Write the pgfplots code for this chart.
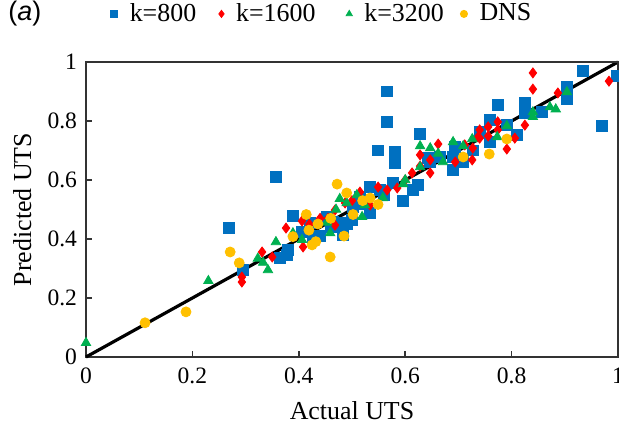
\documentclass[border=0pt]{standalone}
\usepackage{fontspec}
\setmainfont{Liberation Serif}
\newfontfamily\arialfont{Liberation Sans}
\usepackage{pgfplots}
\pgfplotsset{compat=1.18}
\definecolor{c800}{RGB}{0,112,192}
\definecolor{c1600}{RGB}{255,0,0}
\definecolor{c3200}{RGB}{0,176,80}
\definecolor{cdns}{RGB}{255,192,0}
\newcommand{\legfont}{\fontsize{13}{15}\selectfont}
\newcommand{\legentry}[2]{\makebox[#1][l]{\hspace{4bp}\legfont #2}}
\begin{document}
\begin{tikzpicture}
\useasboundingbox (-43bp,-36bp) rectangle (266.5bp,178.5bp);
\begin{axis}[
    at={(0,0)}, anchor=south west,
    scale only axis,
    width=266bp, height=147.5bp,
    xmin=0, xmax=1, ymin=0, ymax=1,
    xtick={0,0.2,...,1}, ytick={0,0.2,...,1},
    tick align=inside,
    xtick pos=bottom, ytick pos=left,
    major tick length=3bp,
    axis line style={black!80, line width=0.9pt},
    every tick/.style={black!80, line width=0.8pt},
    /pgf/number format/assume math mode=true,
    tick label style={font=\fontsize{11.8}{14}\selectfont},
    xticklabel style={yshift=-2bp},
    yticklabel style={xshift=-1bp},
    xlabel={Actual UTS},
    ylabel={Predicted UTS},
    every axis x label/.style={at={(axis description cs:0.5,-0.182)}, anchor=center,
        font=\fontsize{13}{15}\selectfont},
    every axis y label/.style={at={(axis description cs:-0.12,0.5)}, anchor=center, rotate=90,
        font=\fontsize{13}{15}\selectfont},
    clip=false,
    legend columns=4,
    legend style={draw=none, fill=none, at={(axis description cs:0.0455,1.163)}, anchor=west,
        font=\legfont, inner sep=0pt, column sep=0pt},
    legend cell align=left,
    legend image code/.code={\draw[#1, mark size=1.8bp] plot coordinates {(0bp,0bp)};},
]
\addplot[black, line width=1.6pt, forget plot] coordinates {(0,0) (1,1)};

\addplot[only marks, mark=square*, mark size=2.7bp, c800, mark options={fill=c800, draw=c800}] coordinates {
(0.269,0.437) (0.295,0.295) (0.357,0.61) (0.365,0.337) (0.378,0.346) (0.38,0.363)
(0.389,0.478) (0.406,0.424) (0.421,0.454) (0.427,0.403) (0.453,0.476) (0.464,0.458)
(0.483,0.454) (0.483,0.414) (0.49,0.45) (0.50,0.464) (0.502,0.508) (0.515,0.542)
(0.534,0.576) (0.534,0.488) (0.549,0.70) (0.553,0.566) (0.566,0.90) (0.566,0.797)
(0.577,0.59) (0.58,0.695) (0.58,0.658) (0.596,0.528) (0.615,0.566) (0.624,0.583)
(0.628,0.756) (0.643,0.674) (0.647,0.661) (0.665,0.678) (0.69,0.634) (0.69,0.678)
(0.694,0.712) (0.709,0.661) (0.727,0.70) (0.74,0.763) (0.759,0.803) (0.759,0.729)
(0.774,0.854) (0.791,0.786) (0.81,0.752) (0.825,0.861) (0.825,0.827) (0.857,0.83)
(0.904,0.915) (0.904,0.875) (0.934,0.97) (0.97,0.783) (0.998,0.953) (0.52,0.52)
(0.46,0.44) (0.44,0.41) (0.56,0.55)
};
\addlegendentry{\legentry{46.5bp}{k=800}}

\addplot[only marks, mark=diamond*, mark size=2.5bp, c1600, mark options={fill=c1600, draw=c1600}] coordinates {
(0.293,0.271) (0.293,0.254) (0.331,0.356) (0.35,0.339) (0.376,0.437) (0.406,0.461)
(0.408,0.373) (0.44,0.47) (0.468,0.498) (0.468,0.447) (0.487,0.522) (0.50,0.53)
(0.515,0.559) (0.534,0.515) (0.549,0.576) (0.566,0.566) (0.585,0.573) (0.613,0.624)
(0.628,0.685) (0.628,0.647) (0.647,0.668) (0.647,0.624) (0.662,0.722) (0.694,0.661)
(0.712,0.719) (0.726,0.668) (0.727,0.708) (0.737,0.746) (0.74,0.77) (0.74,0.742)
(0.756,0.78) (0.756,0.749) (0.774,0.797) (0.774,0.77) (0.791,0.705) (0.806,0.742)
(0.825,0.786) (0.84,0.963) (0.84,0.908) (0.887,0.895) (0.983,0.935) (0.42,0.45)
(0.455,0.47) (0.6,0.6)
};
\addlegendentry{\legentry{57bp}{k=1600}}

\addplot[only marks, mark=triangle*, mark size=2.7bp, c3200, mark options={fill=c3200, draw=c3200}] coordinates {
(0,0.048) (0.23,0.258) (0.323,0.334) (0.333,0.32) (0.342,0.295) (0.357,0.39)
(0.389,0.42) (0.406,0.397) (0.453,0.456) (0.459,0.42) (0.477,0.536) (0.49,0.522)
(0.509,0.549) (0.519,0.475) (0.524,0.515) (0.558,0.539) (0.596,0.586) (0.628,0.715)
(0.628,0.644) (0.647,0.708) (0.662,0.69) (0.671,0.661) (0.69,0.729) (0.709,0.715)
(0.726,0.739) (0.773,0.746) (0.791,0.783) (0.84,0.83) (0.84,0.814) (0.872,0.847)
(0.883,0.84) (0.904,0.898) (0.47,0.5) (0.6,0.6)
};
\addlegendentry{\legentry{50bp}{k=3200}}

\addplot[only marks, mark=*, mark size=2.5bp, cdns, mark options={fill=cdns, draw=cdns}] coordinates {
(0.111,0.116) (0.188,0.153) (0.271,0.356) (0.288,0.319) (0.389,0.408) (0.414,0.483)
(0.419,0.43) (0.425,0.38) (0.432,0.391) (0.436,0.451) (0.459,0.339) (0.472,0.586)
(0.485,0.41) (0.49,0.556) (0.502,0.483) (0.534,0.539) (0.549,0.517) (0.709,0.678)
(0.758,0.688) (0.791,0.739) (0.46,0.47) (0.52,0.53)
};
\addlegendentry{\legentry{30bp}{DNS}}

\draw[black!80, line width=0.9pt] (axis cs:0,1) -- (axis cs:1,1) -- (axis cs:1,0);
\end{axis}
\node[anchor=west, inner sep=0pt, font=\arialfont\fontsize{13.5}{15}\selectfont] at (-39bp,171.5bp) {(\textit{a})};
\end{tikzpicture}
\end{document}
